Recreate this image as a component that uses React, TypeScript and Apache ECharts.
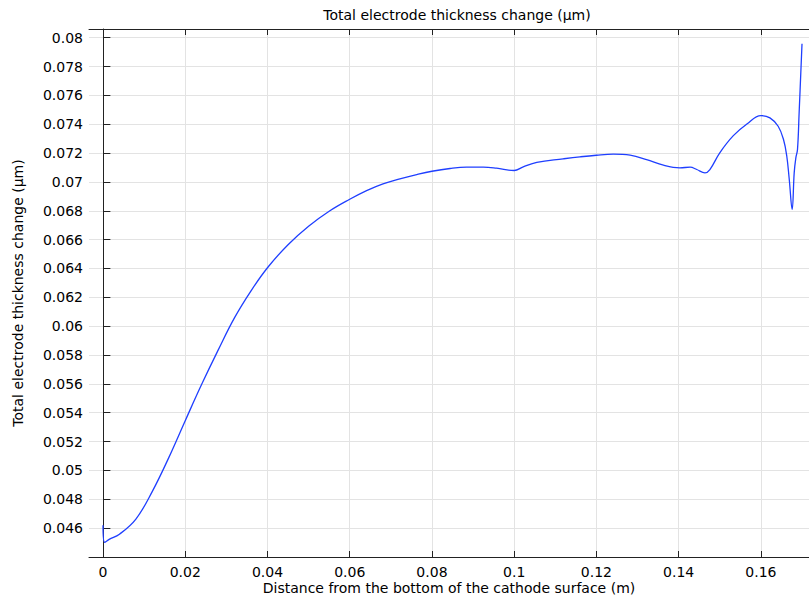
import React, { useEffect, useRef } from "react";
import * as echarts from "echarts";

const titleText = "Total electrode thickness change (µm)";
const xAxisName = "Distance from the bottom of the cathode surface (m)";
const yAxisName = "Total electrode thickness change (µm)";

const xValues = [
  0, 0.0004, 0.0015, 0.004, 0.008, 0.012, 0.016, 0.02, 0.024, 0.028, 0.032,
  0.036, 0.04, 0.045, 0.05, 0.055, 0.06, 0.0641, 0.0681, 0.0722, 0.0763, 0.08,
  0.0844, 0.0884, 0.0925, 0.0957, 0.1, 0.1022, 0.1055, 0.1119, 0.116, 0.12,
  0.1241, 0.1282, 0.1322, 0.1363, 0.1403, 0.1428, 0.1444, 0.1464, 0.1476, 0.15,
  0.1533, 0.1566, 0.16, 0.1622, 0.1642, 0.1655, 0.1663, 0.1669, 0.1676, 0.1681,
  0.1685, 0.1689, 0.1693, 0.17,
];
const yValues = [
  0.0462, 0.04502, 0.04522, 0.04558, 0.04663, 0.04855, 0.05089, 0.05345,
  0.05597, 0.05834, 0.06059, 0.06245, 0.06405, 0.06565, 0.06693, 0.06797,
  0.0688, 0.0694, 0.06987, 0.07021, 0.07051, 0.07074, 0.07093, 0.07102,
  0.07102, 0.07095, 0.07079, 0.07105, 0.07136, 0.0716, 0.07174, 0.07185,
  0.07192, 0.07185, 0.07155, 0.07116, 0.07098, 0.07102, 0.07086, 0.07063,
  0.07086, 0.07202, 0.07321, 0.07402, 0.0746, 0.07444, 0.07386, 0.07294,
  0.07178, 0.07017, 0.06809, 0.07063, 0.07167, 0.07224, 0.07479, 0.07958,
];

const xMinFull = -0.0035;
const xMax = 0.1717;
const yMin = 0.044;
const yMax = 0.0806;
const xInterval = 0.02;
const yInterval = 0.002;

const FONT = "DejaVu Sans";
const AXIS_COLOR = "#222";
const GRID_COLOR = "#e3e3e3";

export default function App() {
  const ref = useRef<HTMLDivElement>(null);

  useEffect(() => {
    document.body.style.margin = "0";
    if (!ref.current) return;
    const chart = echarts.init(ref.current, null, { renderer: "svg" });
    const data = xValues.map((x, i) => [x, yValues[i]]);
    const top = 29;
    const bottom = 601 - 557;
    chart.setOption({
      animation: false,
      backgroundColor: "#fff",
      textStyle: { fontFamily: FONT },
      title: {
        text: titleText,
        left: 452,
        top: 3,
        textAlign: "center",
        textStyle: { fontFamily: FONT, fontSize: 14, fontWeight: "normal", color: "#000" },
      },
      grid: [
        { left: 89, right: 0, top, bottom, containLabel: false },
        { left: 103, right: 0, top, bottom, containLabel: false },
      ],
      xAxis: [
        {
          type: "value",
          gridIndex: 0,
          min: xMinFull,
          max: xMax,
          position: "bottom",
          axisLine: { show: true, lineStyle: { color: AXIS_COLOR, width: 1 } },
          axisTick: { show: false },
          axisLabel: { show: false },
          splitLine: { show: false },
          name: xAxisName,
          nameLocation: "middle",
          nameGap: 24,
          nameTextStyle: { fontFamily: FONT, fontSize: 14, color: "#000" },
        },
        {
          type: "value",
          gridIndex: 0,
          min: xMinFull,
          max: xMax,
          position: "top",
          axisLine: { show: true, lineStyle: { color: AXIS_COLOR, width: 1 } },
          axisTick: { show: false },
          axisLabel: { show: false },
          splitLine: { show: false },
        },
        {
          type: "value",
          gridIndex: 1,
          min: 0,
          max: xMax,
          interval: xInterval,
          position: "bottom",
          axisLine: { show: false },
          axisTick: { show: true, inside: true, length: 6, lineStyle: { color: AXIS_COLOR } },
          axisLabel: {
            show: true,
            margin: 8,
            fontFamily: FONT,
            fontSize: 14,
            color: "#000",
            showMaxLabel: false,
          },
          splitLine: { show: true, lineStyle: { color: GRID_COLOR, width: 1 } },
        },
        {
          type: "value",
          gridIndex: 1,
          min: 0,
          max: xMax,
          interval: xInterval,
          position: "top",
          axisLine: { show: false },
          axisTick: { show: true, inside: true, length: 6, lineStyle: { color: AXIS_COLOR } },
          axisLabel: { show: false },
          splitLine: { show: false },
        },
      ],
      yAxis: [
        {
          type: "value",
          gridIndex: 0,
          min: yMin,
          max: yMax,
          interval: yInterval,
          axisLine: { show: true, lineStyle: { color: AXIS_COLOR, width: 1 } },
          axisTick: { show: true, inside: true, length: 7, lineStyle: { color: AXIS_COLOR } },
          axisLabel: {
            show: true,
            margin: 6,
            fontFamily: FONT,
            fontSize: 14,
            color: "#000",
            showMinLabel: false,
            showMaxLabel: false,
          },
          splitLine: { show: true, lineStyle: { color: GRID_COLOR, width: 1 } },
          name: yAxisName,
          nameLocation: "middle",
          nameGap: 64,
          nameTextStyle: { fontFamily: FONT, fontSize: 14, color: "#000" },
        },
        {
          type: "value",
          gridIndex: 1,
          min: yMin,
          max: yMax,
          show: false,
        },
      ],
      series: [
        {
          type: "line",
          xAxisIndex: 2,
          yAxisIndex: 1,
          data,
          showSymbol: false,
          smooth: 0.4,
          lineStyle: { color: "#1f3fff", width: 1.3 },
          silent: true,
        },
      ],
    });
    return () => chart.dispose();
  }, []);

  return <div ref={ref} style={{ width: 809, height: 601 }} />;
}
